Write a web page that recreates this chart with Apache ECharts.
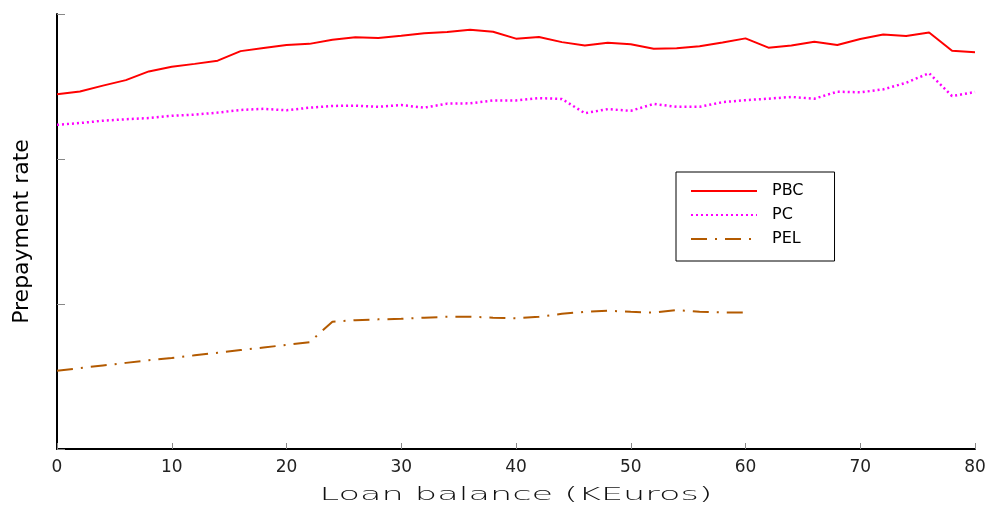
<!DOCTYPE html>
<html>
<head>
<meta charset="utf-8">
<script src="https://cdn.jsdelivr.net/npm/echarts@6/dist/echarts.min.js"></script>
<style>
html,body{margin:0;padding:0;background:#fff;}
#c{width:991px;height:506px;}
</style>
</head>
<body>
<div id="c"></div>
<script>
// Loan balance (KEuros)
var xBalance = [0,2,4,6,8,10,12,14,16,18,20,22,24,26,28,30,32,34,36,38,40,42,44,46,48,50,52,54,56,58,60,62,64,66,68,70,72,74,76,78,80];
var pbc = [12.23,12.33,12.53,12.72,13.02,13.18,13.28,13.39,13.72,13.83,13.93,13.97,14.11,14.20,14.17,14.25,14.34,14.38,14.46,14.39,14.15,14.21,14.03,13.91,14.01,13.96,13.80,13.82,13.89,14.02,14.16,13.84,13.91,14.04,13.93,14.14,14.29,14.24,14.36,13.73,13.68];
var pc = [11.18,11.24,11.32,11.37,11.41,11.49,11.53,11.60,11.69,11.73,11.68,11.77,11.83,11.84,11.80,11.86,11.77,11.91,11.92,12.02,12.02,12.10,12.07,11.58,11.72,11.66,11.90,11.80,11.80,11.96,12.03,12.08,12.14,12.08,12.32,12.30,12.40,12.63,12.96,12.17,12.31];
var xPel = [0,2,4,6,8,10,12,14,16,18,20,22,24,26,28,30,32,34,36,38,40,42,44,46,48,50,52,54,56,58,60];
var pel = [2.70,2.79,2.88,2.97,3.06,3.14,3.23,3.32,3.41,3.50,3.59,3.68,4.39,4.44,4.47,4.49,4.53,4.56,4.56,4.53,4.51,4.56,4.66,4.73,4.77,4.73,4.70,4.79,4.73,4.71,4.71];
var xTicks = ['0','10','20','30','40','50','60','70','80'];

function pairs(xs, ys){ return xs.map(function(x,i){ return [x, ys[i]]; }); }

var chart = echarts.init(document.getElementById('c'), null, {renderer:'canvas'});
var font = 'DejaVu Sans';
chart.setOption({
  animation: false,
  backgroundColor: '#fff',
  grid: {left: 57, right: 16, top: 14, bottom: 57},
  xAxis: {
    type: 'value', min: 0, max: 80, interval: 10,
    axisLine: {lineStyle: {color: '#000', width: 2}},
    axisTick: {inside: true, length: 6, lineStyle: {color: '#888', width: 1}},
    axisLabel: {margin: 10, color: '#222', fontFamily: font, fontSize: 17,
      formatter: function(v){ return xTicks[Math.round(v/10)]; }},
    splitLine: {show: false}
  },
  yAxis: {
    type: 'value', min: 0, max: 15, interval: 5,
    name: 'Prepayment rate', nameLocation: 'middle', nameGap: 24,
    nameTextStyle: {color: '#000', fontFamily: font, fontSize: 22},
    axisLine: {show: true, lineStyle: {color: '#000', width: 2}},
    axisTick: {show: true, inside: true, length: 8, lineStyle: {color: '#888', width: 1}},
    axisLabel: {show: false},
    splitLine: {show: false}
  },
  legend: {
    orient: 'vertical', left: 676, top: 172,
    padding: [11, 31, 14, 14], itemGap: 8, itemWidth: 66, itemHeight: 14,
    borderColor: '#000', borderWidth: 1,
    itemStyle: {opacity: 0},
    textStyle: {color: '#000', fontFamily: font, fontSize: 16, padding: [0,0,0,10]},
    data: ['PBC','PC','PEL']
  },
  series: [
    {name: 'PBC', type: 'line', symbol: 'none', data: pairs(xBalance, pbc),
     lineStyle: {color: '#ff0000', width: 2}, itemStyle: {color: '#ff0000'}},
    {name: 'PC', type: 'line', symbol: 'none', data: pairs(xBalance, pc),
     lineStyle: {color: '#ff00ff', width: 2.5, type: [2, 3]}, itemStyle: {color: '#ff00ff'}},
    {name: 'PEL', type: 'line', symbol: 'none', data: pairs(xPel, pel),
     lineStyle: {color: '#b35a00', width: 2, type: [16, 8, 2, 8]}, itemStyle: {color: '#b35a00'}}
  ],
  graphic: [
    {type: 'text', x: 516, y: 495, scaleX: 1.95, scaleY: 1,
     style: {text: 'Loan balance (KEuros)', x: 0, y: 0, align: 'center', verticalAlign: 'middle',
       fill: '#111', font: '200 18px "DejaVu Sans"'}}
  ]
});
</script>
</body>
</html>
